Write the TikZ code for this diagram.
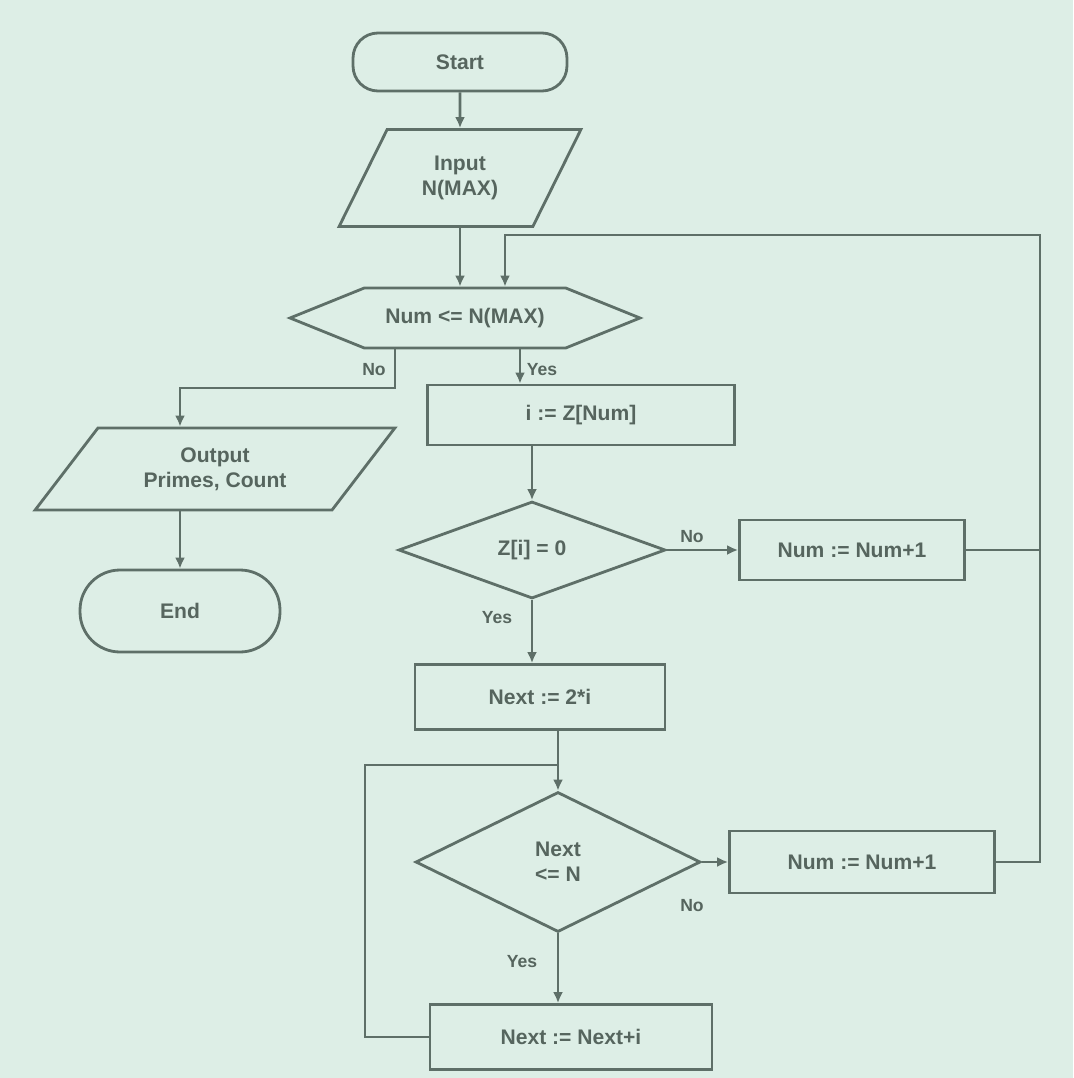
\documentclass[tikz,border=0pt]{standalone}
\usepackage{fontspec}
\setmainfont{Liberation Sans}
\usetikzlibrary{arrows.meta,positioning,calc,shapes.geometric,shapes.symbols}
\definecolor{paper}{HTML}{DDEEE6}
\definecolor{ink}{HTML}{5E6F68}
\definecolor{txt}{HTML}{56655E}
\tikzset{
  >={Latex[length=2.2mm,width=2mm]},
  every node/.style={font=\large\bfseries,text=txt},
  term/.style={draw=ink,line width=1.6pt,rounded corners=5mm,fill=paper,align=center},
  io/.style={draw=ink,line width=1.6pt,trapezium,trapezium stretches=true,fill=paper,align=center,inner sep=0pt},
  loopcond/.style={draw=ink,line width=1.6pt,signal,signal to=west and east,signal pointer angle=44,fill=paper,inner sep=0pt},
  cond/.style={draw=ink,line width=1.6pt,diamond,fill=paper,align=center,inner sep=0pt},
  proc/.style={draw=ink,line width=1.6pt,fill=paper,align=center,inner sep=0pt},
  arrow/.style={->,line width=1.6pt,draw=ink},
  line/.style={line width=1.6pt,draw=ink},
  label/.style={font=\normalsize\bfseries,text=txt,inner sep=1pt},
}

\begin{document}
\begin{tikzpicture}[x=0.02cm,y=-0.02cm]
  \fill[paper] (0,0) rectangle (1073,1078);

  \node[term,minimum width=4.28cm,minimum height=1.16cm] (start) at (460,62) {Start};
  \node[io,trapezium left angle=60,trapezium right angle=120,minimum width=4.84cm,minimum height=1.94cm] (input) at (460,178) {Input\\N(MAX)};
  \node[loopcond,minimum width=7cm,minimum height=1.2cm] (hex) at (465,318) {Num <= N(MAX)};

  \node[io,trapezium left angle=48,trapezium right angle=132,minimum width=7.2cm,minimum height=1.64cm] (output) at (215,469) {Output\\Primes, Count};
  \node[term,minimum width=4cm,minimum height=1.64cm,rounded corners=8mm] (finish) at (180,611) {End};

  \node[proc,minimum width=6.14cm,minimum height=1.2cm] (box1) at (581,415) {i := Z[Num]};
  \node[cond,minimum width=5.34cm,minimum height=1.94cm] (dec2) at (532,550) {Z[i] = 0};
  \node[proc,minimum width=4.5cm,minimum height=1.2cm] (rbox1) at (852,550) {Num := Num+1};
  \node[proc,minimum width=5cm,minimum height=1.3cm] (box3) at (540,697) {Next := 2*i};
  \node[cond,minimum width=5.7cm,minimum height=2.8cm] (dec3) at (558,862) {Next\\<= N};
  \node[proc,minimum width=5.3cm,minimum height=1.24cm] (rbox2) at (862,862) {Num := Num+1};
  \node[proc,minimum width=5.64cm,minimum height=1.3cm] (box4) at (571,1037) {Next := Next+i};

  \coordinate (hl) at (395,388);
  \coordinate (ol) at (180,388);
  \coordinate (hr) at (520,388);
  \coordinate (rj) at (1040,550);
  \coordinate (tj) at (1040,235);
  \coordinate (tl) at (505,235);
  \coordinate (lj) at (558,765);
  \coordinate (bl) at (365,1037);

  \draw[arrow] (start) -- (input);
  \draw[arrow] (input.south) -- (input.south |- hex.north);
  \draw[arrow] (hex.south -| hl) -- (hl) -- (ol) -- (ol |- output.north);
  \draw[arrow] (ol |- output.south) -- (finish);
  \draw[arrow] (hex.south -| hr) -- (hr |- box1.north);
  \draw[arrow] (dec2.north |- box1.south) -- (dec2.north);
  \draw[arrow] (dec2.east) -- (rbox1.west);
  \draw[arrow] (dec2.south) -- (dec2.south |- box3.north);
  \draw[arrow] (box3.south -| lj) -- (dec3.north);
  \draw[arrow] (dec3.east) -- (rbox2.west);
  \draw[arrow] (dec3.south) -- (dec3.south |- box4.north);
  \draw[line] (box4.west) -- (bl) |- (lj);
  \draw[line] (rbox2.east) -- (rbox2.east -| rj) -- (rj);
  \draw[arrow] (rbox1.east) -- (rj) -- (tj) -- (tl) -- (tl |- hex.north);

  \node[label] (n1) at (374,370) {No};
  \node[label] (y1) at (542,370) {Yes};
  \node[label] (n2) at (692,537) {No};
  \node[label] (y2) at (497,618) {Yes};
  \node[label] (n3) at (692,906) {No};
  \node[label] (y3) at (522,962) {Yes};
\end{tikzpicture}
\end{document}
